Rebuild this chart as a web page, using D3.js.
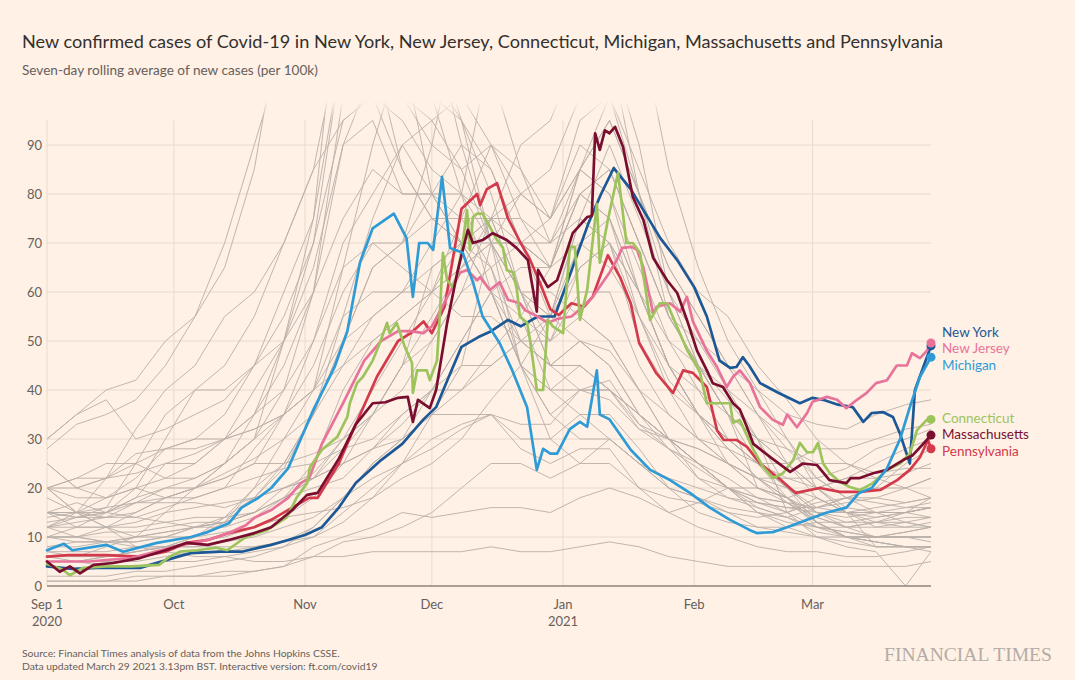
<!DOCTYPE html>
<html lang="en">
<head>
<meta charset="utf-8">
<title>New confirmed cases of Covid-19</title>
<script src="https://d3js.org/d3.v7.min.js"></script>
<style>
  body { margin: 0; background: #fff1e5; }
  svg { display: block; font-family: Lato, "Open Sans", sans-serif; }
  .grid line { stroke: #e8dacd; stroke-width: 1; }
  .grey { fill: none; stroke: #b9afa8; stroke-width: 1; stroke-linejoin: round; opacity: 0.9; }
  .state { fill: none; stroke-width: 2.7; stroke-linejoin: round; stroke-linecap: round; }
</style>
</head>
<body>
<svg width="1075" height="680"></svg>
<script>

// ---- data (day offsets from 1 Sep 2020, 7-day avg new cases per 100k) ----
var startDate = new Date(2020, 8, 1);
var lastDay = 209;

var yTicks = [0, 10, 20, 30, 40, 50, 60, 70, 80, 90];
var monthTicks = [new Date(2020, 8, 1), new Date(2020, 9, 1), new Date(2020, 10, 1),
                  new Date(2020, 11, 1), new Date(2021, 0, 1), new Date(2021, 1, 1), new Date(2021, 2, 1)];
var monthLabels = ["Sep 1", "Oct", "Nov", "Dec", "Jan", "Feb", "Mar"];
var yearLabels = ["2020", "", "", "", "2021", "", ""];

var seriesNames = ["New York", "New Jersey", "Michigan", "Connecticut", "Massachusetts", "Pennsylvania"];
var seriesColours = ["#1d5896", "#e8739a", "#2e9bd6", "#9dc45c", "#7a0e30", "#d33a4c"];
var drawOrder = ["New York", "Pennsylvania", "New Jersey", "Connecticut", "Massachusetts", "Michigan"];

var newYork = [[0,4],[6,3.5],[12,3.7],[22,3.7],[31,6],[34,6.7],[41,7],[46,7],[53,8.4],[57,9.4],[61,10.4],
  [65,12],[69,16],[73,21],[79,25.7],[84,29],[89,34],[92,36.5],[95,42.7],[98,48.8],[102,50.8],[105,52],
  [109,54.3],[112,53],[116,55],[120,55],[123,62],[128,74],[131,80],[134,85.3],[138,81],[141,76.7],[145,71],
  [149,66.5],[153,61],[156,55],[159,46],[161.5,44.5],[163,44.7],[164.5,46.7],[166,45],[168.6,41.4],
  [173,39.4],[178,37.3],[181,38.4],[183.5,38],[187,37],[190.5,36.5],[193,33.5],[195,35.3],[197.6,35.5],
  [200,34.5],[201.7,31],[204,25],[205.2,40],[209,49]];

var newJersey = [[0,5],[10,5],[14,5.3],[20,5.7],[30,8],[38,9.4],[43,10.8],[47,12.4],[49,13.9],[53,15.5],
  [57,18],[60,21],[62,22],[65,29],[70,37.3],[75,46],[79,50],[83,52],[86,52],[89,51.6],[91,53],[97.7,64],
  [99.3,64.5],[101.7,62.4],[102.4,63],[104.7,60.4],[107,62],[109,58.4],[111.8,57.7],[113,56.3],[116,55],
  [118.4,53.7],[120.6,54.5],[124,55],[126.7,57],[129,59],[131.4,62],[133,64],[134.7,66.5],[136,69],
  [138.3,69.2],[139.5,68.6],[141,65],[143.3,55.7],[144.2,57],[147.3,57.7],[149.7,56],[151.3,59],[152.7,54],
  [156,48],[158.4,44.7],[160.7,40.6],[162.2,42.7],[163.8,44],[166.2,41.4],[168.6,36.5],[171.6,33.9],
  [174,32.9],[175,35],[177.3,32.4],[179.7,35.3],[181,37.6],[184.4,38.6],[186.8,38],[189,36.3],[191.5,38],
  [193.8,39.4],[196,41.4],[198.6,42],[200.9,45],[203.3,45],[204.5,47.5],[206.4,46.5],[208,48],[209,49.6]];

var michigan = [[0,7.3],[4,8.6],[6,7.3],[14,8.4],[18,7],[26,8.8],[34,10],[38,11],[43,12.8],[46,16],[50,18],
  [53,20],[57,24],[60,30],[62,34],[63,36],[68,44.7],[71,52],[74,66],[77,73],[82,76],[85,71],[86.5,59],
  [88,70],[90,70],[91.3,68.6],[93.4,83.5],[95.3,69],[98.3,68],[100.7,62],[103,55],[107,49.6],[110,44],
  [113.5,36.5],[115.8,23.7],[117.3,28],[119,27],[120.6,27],[123.6,32],[126,33.5],[127.7,32.5],[130,44],
  [130.7,35],[133,34],[138,27.8],[142.6,23.7],[147.3,21.6],[152,19],[156.7,16],[161.5,13.5],[166.2,11.4],
  [167.8,10.8],[171.6,11],[175,12],[179.7,13.5],[184.4,15],[189,16],[192,19],[195,20],[198.6,24],
  [201.7,30],[204,36.5],[206.4,42.7],[209,46.7]];

var connecticut = [[0,4.5],[3.8,3.3],[5.4,2.2],[8.5,3.7],[14,4],[20,4],[26.5,4.3],[29,6],[31.4,7],[35.4,7.3],
  [40,7.8],[42.6,7.3],[47,10],[52,11.4],[56.7,14],[59,18],[61.5,21],[62.2,24.3],[65,27.8],[68.6,30.4],
  [71,34.5],[71.6,37.3],[73.3,41.4],[74.7,42.7],[77,46],[78.7,49.6],[80.4,53.7],[81,51.6],[82.7,53.7],
  [83.5,51.6],[84.6,48.8],[86.3,45.5],[86.5,39.4],[87.5,44],[89.8,44],[90.5,42],[92.2,46],[92.9,55.7],
  [93.6,68],[94.6,62.4],[96,61],[96.9,63],[98.3,70],[99.3,76.7],[100,68.6],[100.7,75.3],[101.7,76],[103,76],
  [104.7,73.3],[106.4,70.6],[107.8,69],[108.7,64.5],[110.2,64],[111.1,60.4],[111.8,55],[113.5,53.7],
  [114.2,50.2],[115.4,42.7],[115.8,40],[117.3,40],[118.4,54.3],[119.6,53],[122,51.6],[123.6,69.2],
  [124.8,69.2],[126,54.3],[127.7,60.4],[130,78],[130.7,66],[132.6,74.7],[135,84.3],[137,70],[138.5,70],
  [140.2,68],[142.6,54.3],[144.9,57.7],[146.6,57.7],[148.9,53],[151.3,48.2],[153.7,44.7],[154.4,43.5],
  [156,37.3],[161.5,37.3],[162.2,33.3],[163.8,33.9],[167,27.8],[169.3,24.3],[171.6,22],[174,23],
  [176.4,25.7],[178,29.2],[179.7,27.3],[181.1,27.3],[182.3,29.2],[183.5,25],[185.1,23],[187.5,21.2],
  [189.8,20.2],[192.2,19.6],[195.3,21],[198.6,23.7],[201.7,25],[204,27],[205.7,31.8],[208,33.9],[209,34]];

var massachusetts = [[0,5],[3,2.9],[5.4,4],[7.8,2.6],[11,4.3],[15.6,4.7],[22,5.7],[28,7.3],[33,8.8],[38,8.4],
  [43,9.4],[49,10.8],[53,12],[58,15.5],[61.5,18.6],[64,19],[69,26],[73,33],[77,37.3],[80,37.5],[83,38.4],
  [85.3,38.6],[86.5,33.5],[87.7,38],[90.5,36.3],[92,40],[94.6,53.7],[97,64],[99.5,72.7],[100.7,70],
  [103,70.6],[105.4,72],[108.7,70.6],[111,69],[113.7,66.5],[115.8,56],[116.1,64.5],[118.4,61],[120.6,62.4],
  [123,68.6],[124.3,72],[127.7,75.3],[128.8,75.5],[129.6,92.4],[130.7,89],[131.9,93],[133,92.4],
  [134.3,93.7],[136.2,89.6],[138.5,79.4],[141,74.7],[143.3,67],[146.6,62.4],[149,59.8],[151.3,54.3],
  [153.7,48],[156,44],[157.4,41.4],[159.8,40.6],[162.2,37.3],[163.8,36],[165.5,32.4],[167,29],[171,26.3],
  [175.7,23.3],[178.7,25],[182,24.7],[185,21.6],[189,21],[190,22],[192,22],[195.3,23],[198.6,23.7],
  [202.4,25.7],[204.7,26.7],[208,29.8],[209,30.8]];

var pennsylvania = [[0,6],[5,6.3],[14,6.3],[22,6],[28,7],[33,8.8],[38,9.4],[43,10.8],[49,12],[53,13.5],[58,16],
  [62,18],[64,18],[69,25],[73,33],[78,42.7],[83,50],[86,51.6],[89,54],[91,51.6],[94,57],[96,67],[98,77],
  [101.7,80],[102.4,77.7],[104,81],[106.4,82.2],[109,75],[112,70],[114,67],[116.5,62],[119,56.5],[121,55.3],
  [124,57.7],[127,57],[129,59],[132.6,67.5],[135.5,63],[138,57.7],[140,49.6],[144,43.5],[148,39.4],
  [150.4,44],[152.7,43.5],[156,40.6],[158.4,31.8],[160,29.8],[163,29.8],[165.5,28.4],[168.6,25],[173,22],
  [177,19],[182.7,20],[187.5,19.2],[192,19.2],[197,19.6],[201,21.6],[204,23.7],[206.4,26.3],[208.3,29.8],[209,28]];

// other states, weekly samples
var greyDays = [0,7,14,21,28,35,42,49,56,63,70,77,84,91,98,105,112,119,126,133,140,147,154,161,168,175,182,189,196,203,209];
var northDakota = [30,35,40,42,50,55,65,85,120,150,180,185,140,115,90,70,55,40,35,30,25,22,20,18,17,16,15,15,16,17,18];
var southDakota = [28,33,35,38,45,55,70,90,110,135,165,170,140,115,95,80,60,45,45,40,33,30,28,25,22,22,20,22,25,28,30];
var wisconsin = [12,15,22,32,40,45,55,60,70,85,115,110,85,75,70,65,50,45,45,40,35,30,22,18,16,14,11,10,10,11,12];
var iowa = [30,35,38,30,32,35,38,45,60,75,130,150,110,80,70,60,45,40,45,40,32,30,25,22,18,17,14,12,13,12,13];
var nebraska = [14,15,18,22,28,30,35,45,55,70,110,120,100,90,85,70,60,60,55,50,40,30,25,20,17,15,12,11,10,10,10];
var minnesota = [13,14,14,17,20,22,25,30,40,60,100,125,115,105,95,70,45,35,30,30,25,20,18,16,15,14,16,18,20,25,28];
var montana = [10,12,15,20,30,40,45,55,70,85,95,100,95,85,80,70,60,45,40,40,35,30,28,25,22,18,15,14,15,15,16];
var wyoming = [6,6,8,10,15,20,25,30,50,75,110,145,120,100,80,60,45,35,40,40,35,30,25,20,15,12,10,9,8,8,8];
var utah = [12,14,16,25,35,40,40,45,50,65,90,105,100,95,85,90,80,75,85,95,80,65,55,45,35,30,22,18,15,15,14];
var idaho = [20,20,18,20,22,25,30,40,50,60,75,85,80,80,75,75,60,50,55,50,40,35,30,25,22,20,18,15,15,16,17];
var illinois = [15,15,14,15,18,20,25,35,50,70,95,100,85,75,70,60,50,45,50,45,35,28,24,20,16,14,12,12,13,15,18];
var indiana = [12,13,14,14,16,18,20,28,35,50,70,80,90,95,100,90,75,70,85,80,60,45,35,28,22,18,14,12,12,13,14];
var ohio = [8,9,9,9,10,12,14,18,24,35,50,65,70,80,90,85,70,65,80,75,55,42,35,30,25,20,16,15,14,15,16];
var kansas = [15,17,15,18,25,25,30,35,45,60,90,95,80,80,80,75,60,55,75,70,50,40,30,25,20,17,13,10,10,10,10];
var missouri = [20,22,22,23,25,27,30,35,40,50,65,70,65,60,55,55,50,45,50,48,40,30,25,20,18,15,10,8,7,0,7];
var oklahoma = [20,22,25,25,28,28,30,32,35,40,55,60,60,60,65,70,70,75,95,100,80,55,45,35,30,20,15,12,10,10,9];
var tennessee = [25,20,22,25,22,22,25,30,35,40,50,55,60,70,80,110,130,115,125,110,80,60,45,35,30,25,20,16,15,15,16];
var arizona = [7,6,6,7,8,9,10,12,14,18,25,35,45,50,60,75,90,95,110,130,115,85,65,50,40,30,20,15,8,8,8];
var california = [12,10,9,8,8,8,8,8,9,10,13,18,25,35,45,70,80,85,100,110,90,60,45,35,25,18,13,10,8,8,7];
var rhodeIsland = [8,8,9,10,11,12,13,20,25,35,50,65,70,90,120,105,85,75,90,85,70,55,50,45,40,35,33,32,35,37,38];
var delaware = [10,9,9,10,11,12,13,15,20,23,30,35,45,65,70,70,60,55,70,75,60,45,35,30,25,22,22,24,28,30,32];
var florida = [15,12,12,12,13,14,14,15,18,20,22,28,35,40,45,45,50,50,65,70,60,45,40,35,30,28,25,25,23,24,24];
var georgia = [20,15,12,10,10,10,11,12,14,15,16,18,22,25,30,38,45,55,75,90,75,60,50,40,35,25,20,15,12,12,12];
var texas = [15,14,15,14,13,12,12,14,18,22,28,30,35,40,40,45,50,55,65,70,60,50,45,40,30,15,18,15,15,13,12];
var vermont = [1,1,1,1,2,2,2,3,4,8,10,12,15,14,15,16,16,15,18,20,18,15,17,20,20,18,20,22,22,23,25];
var hawaii = [15,15,12,8,7,6,6,5,5,6,6,7,7,7,7,8,7,7,8,9,8,6,5,4,4,4,4,4,4,4,5];
var maine = [1,1,1,2,2,2,3,3,4,6,9,10,12,15,20,25,25,22,25,30,25,20,18,15,12,12,13,13,14,15,16];
var oregon = [5,5,4,4,5,5,6,7,8,10,15,20,25,30,33,35,28,25,28,28,20,15,12,10,8,7,7,6,6,7,8];
var washington = [6,5,5,5,6,7,7,8,9,12,18,25,30,35,35,35,30,30,35,35,28,20,15,13,12,11,10,10,10,11,12];
var westVirginia = [10,10,11,11,12,13,13,15,18,22,30,40,50,60,70,75,70,70,80,75,60,45,35,30,25,20,15,13,13,14,14];
var alabama = [20,18,18,20,18,18,20,22,24,25,28,35,45,55,65,70,70,65,80,85,70,55,45,35,20,18,12,10,9,8,8];
var mississippi = [20,15,15,18,20,20,22,25,25,27,30,35,40,50,60,65,70,65,70,65,55,45,35,25,20,18,13,10,9,8,8];
var arkansas = [25,20,22,27,28,30,30,32,35,40,45,50,55,60,65,75,80,75,85,80,65,50,40,30,25,20,13,10,9,8,8];
var kentucky = [15,14,15,17,18,20,23,26,30,35,45,55,60,65,70,75,75,65,80,85,70,55,45,38,30,25,18,15,13,13,12];
var nevada = [10,10,9,9,10,12,13,15,18,25,40,50,55,60,75,90,85,70,75,70,55,40,35,28,22,17,13,10,10,10,10];
var newMexico = [5,5,6,7,8,10,14,20,30,40,65,90,110,100,95,85,70,55,50,45,35,30,25,20,15,13,12,11,10,10,10];
var colorado = [5,5,6,7,8,10,13,18,25,35,55,75,90,80,70,60,45,40,40,38,32,28,25,20,18,17,16,17,18,20,22];
var southCarolina = [18,15,16,17,17,17,16,18,20,22,25,28,30,35,40,48,55,65,85,100,85,70,60,55,45,38,30,25,22,20,18];
var northCarolina = [12,12,12,13,15,16,17,18,20,22,25,28,33,40,50,60,65,65,85,95,80,65,55,45,35,28,22,18,17,16,16];
var newHampshire = [2,2,2,3,3,4,5,6,8,12,18,25,30,40,50,60,55,50,60,60,45,35,30,28,25,25,28,28,30,32,33];
var alaska = [10,10,12,15,18,20,22,25,35,45,60,70,70,75,75,65,45,30,25,25,20,18,17,15,14,15,17,18,18,17,18];
var districtOfColumbia = [7,7,7,8,8,8,9,10,12,14,18,22,25,28,32,35,33,33,40,42,33,28,22,20,17,16,16,18,20,20,22];

var greyStates = [northDakota, southDakota, wisconsin, iowa, nebraska, minnesota, montana, wyoming, utah,
  idaho, illinois, indiana, ohio, kansas, missouri, oklahoma, tennessee, arizona, california, rhodeIsland,
  delaware, florida, georgia, texas, vermont, hawaii, maine, oregon, washington, westVirginia, alabama,
  mississippi, arkansas, kentucky, nevada, newMexico, colorado, southCarolina, northCarolina, newHampshire,
  alaska, districtOfColumbia];

var highlighted = [newYork, newJersey, michigan, connecticut, massachusetts, pennsylvania];

// ---- chart ----
var svg = d3.select("svg");
var margin = {left: 47, right: 144, top: 96, bottom: 94};
var plotRight = 1075 - margin.right,
    plotBottom = 680 - margin.bottom;

function dayToDate(d) { return new Date(startDate.getTime() + d * 864e5); }

var x = d3.scaleTime()
    .domain([startDate, dayToDate(lastDay)])
    .range([margin.left, plotRight]);

var y = d3.scaleLinear()
    .domain([0, 100])
    .range([plotBottom, margin.top]);

var colour = d3.scaleOrdinal(seriesNames, seriesColours);

var line = d3.line()
    .x(function(d) { return x(dayToDate(d[0])); })
    .y(function(d) { return y(d[1]); });

// fade for lines that run off the top
var defs = svg.append("defs");
var grad = defs.append("linearGradient")
    .attr("id", "fade").attr("gradientUnits", "userSpaceOnUse")
    .attr("x1", 0).attr("x2", 0).attr("y1", y(99)).attr("y2", y(95));
grad.append("stop").attr("offset", 0).attr("stop-color", "#000");
grad.append("stop").attr("offset", 1).attr("stop-color", "#fff");
defs.append("mask").attr("id", "topfade")
  .append("rect").attr("x", 0).attr("y", 0).attr("width", 1075).attr("height", 680)
    .attr("fill", "url(#fade)");

// gridlines
var grid = svg.append("g").attr("class", "grid");
grid.selectAll(".h").data(yTicks.slice(1)).enter().append("line")
    .attr("x1", margin.left).attr("x2", plotRight)
    .attr("y1", function(d) { return y(d); }).attr("y2", function(d) { return y(d); });
grid.selectAll(".v").data(monthTicks).enter().append("line")
    .attr("x1", function(d) { return x(d); }).attr("x2", function(d) { return x(d); })
    .attr("y1", plotBottom).attr("y2", y(95));

// y tick labels
svg.append("g").selectAll("text").data(yTicks).enter().append("text")
    .attr("x", 42).attr("y", function(d) { return y(d); })
    .attr("dy", "0.35em").attr("text-anchor", "end")
    .attr("font-size", 13).attr("fill", "#66605c")
    .text(function(d) { return d; });

// x tick labels
var xl = svg.append("g").selectAll("text").data(monthTicks).enter().append("text")
    .attr("x", function(d) { return x(d); })
    .attr("text-anchor", "middle").attr("font-size", 13).attr("fill", "#66605c");
xl.append("tspan").attr("x", function(d) { return x(d); }).attr("y", 609)
    .text(function(d, i) { return monthLabels[i]; });
xl.append("tspan").attr("x", function(d) { return x(d); }).attr("y", 626)
    .text(function(d, i) { return yearLabels[i]; });

// other states
svg.append("g").attr("mask", "url(#topfade)")
  .selectAll("path").data(greyStates).enter().append("path")
    .attr("class", "grey")
    .attr("d", function(vals) {
      return line(vals.map(function(v, i) { return [greyDays[i], v]; }));
    });

// baseline
svg.append("line")
    .attr("x1", margin.left).attr("x2", plotRight)
    .attr("y1", y(0)).attr("y2", y(0))
    .attr("stroke", "#8c837c").attr("stroke-width", 1.3);

// highlighted states
var states = seriesNames.map(function(name, i) {
  return {name: name, values: highlighted[i]};
});
var byName = {};
states.forEach(function(s) { byName[s.name] = s; });
var ordered = drawOrder.map(function(n) { return byName[n]; });

svg.append("g").selectAll("path").data(ordered).enter().append("path")
    .attr("class", "state")
    .attr("stroke", function(d) { return colour(d.name); })
    .attr("d", function(d) { return line(d.values); });

svg.append("g").selectAll("circle").data(ordered).enter().append("circle")
    .attr("cx", function(d) { var v = d.values[d.values.length - 1]; return x(dayToDate(v[0])); })
    .attr("cy", function(d) { var v = d.values[d.values.length - 1]; return y(v[1]); })
    .attr("r", 4.5)
    .attr("fill", function(d) { return colour(d.name); });

// end labels, pushed apart
var gap = 16.5;
var labels = states.map(function(s) {
  return {name: s.name, y: y(s.values[s.values.length - 1][1])};
});
var groups = [];
labels.forEach(function(l) {
  var g = groups[groups.length - 1];
  if (g && Math.abs(l.y - g[g.length - 1].y) < gap) g.push(l); else groups.push([l]);
});
groups.forEach(function(g) {
  var mean = d3.mean(g, function(l) { return l.y; });
  g.forEach(function(l, i) { l.y = mean + (i - (g.length - 1) / 2) * gap; });
});
svg.append("g").selectAll("text").data(labels).enter().append("text")
    .attr("x", 942).attr("y", function(d) { return d.y; }).attr("dy", "0.35em")
    .attr("font-size", 13.5).attr("fill", function(d) { return colour(d.name); })
    .text(function(d) { return d.name; });

// titles and notes
function fitWidth(sel, w) {
  var cur = sel.node().getComputedTextLength();
  sel.attr("font-size", parseFloat(sel.attr("font-size")) * w / cur);
}
fitWidth(svg.append("text").attr("x", 22).attr("y", 48).attr("font-size", 18).attr("fill", "#33302e")
    .text("New confirmed cases of Covid-19 in New York, New Jersey, Connecticut, Michigan, Massachusetts and Pennsylvania"), 922);
fitWidth(svg.append("text").attr("x", 22).attr("y", 75).attr("font-size", 13).attr("fill", "#66605c")
    .text("Seven-day rolling average of new cases (per 100k)"), 296);
fitWidth(svg.append("text").attr("x", 22).attr("y", 657).attr("font-size", 10).attr("fill", "#66605c")
    .text("Source: Financial Times analysis of data from the Johns Hopkins CSSE."), 318);
fitWidth(svg.append("text").attr("x", 22).attr("y", 670).attr("font-size", 10).attr("fill", "#66605c")
    .text("Data updated March 29 2021 3.13pm BST. Interactive version: ft.com/covid19"), 356);
fitWidth(svg.append("text").attr("x", 884).attr("y", 661).attr("font-size", 18)
    .attr("font-family", "'Liberation Serif', 'DejaVu Serif', serif").attr("fill", "#b3aca6")
    .text("FINANCIAL TIMES"), 168);

</script>
</body>
</html>
